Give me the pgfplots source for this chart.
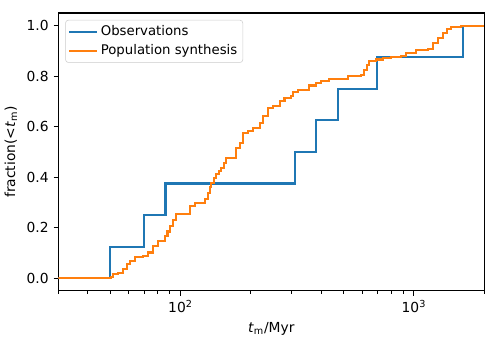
\documentclass[border=0pt]{standalone}
\usepackage{fontspec}
\setmainfont{DejaVu Sans}
\usepackage{pgfplots}
\pgfplotsset{compat=1.18}
\definecolor{tabblue}{HTML}{1F77B4}
\definecolor{taborange}{HTML}{FF7F0E}
\begin{document}
\begin{tikzpicture}
\begin{axis}[
  name=ax,
  scale only axis,
  width=308pt, height=201pt,
  xmode=log,
  xmin=30, xmax=2000,
  ymin=-0.05, ymax=1.05,
  xtick={100,1000},
  xticklabels={10\textsuperscript{2},10\textsuperscript{3}},
  minor xtick={30,40,50,60,70,80,90,200,300,400,500,600,700,800,900,2000},
  ytick={0,0.2,0.4,0.6,0.8,1.0},
  yticklabel style={/pgf/number format/.cd,fixed,fixed zerofill,precision=1},
  /pgf/number format/assume math mode=true,
  tick align=outside,
  tick pos=left,
  major tick length=3.5pt,
  minor tick length=2pt,
  every tick/.style={black, line width=0.8pt},
  every minor tick/.style={black, line width=0.6pt},
  axis line style={line width=0.8pt},
  tick label style={font=\fontsize{10}{12}\selectfont},
  label style={font=\fontsize{10}{12}\selectfont},
  xlabel={\textit{t}\textsubscript{m}/Myr},
  ylabel={fraction(<\textit{t}\textsubscript{m})},
  legend style={at={(rel axis cs:0,1)}, anchor=north west, xshift=5pt, yshift=-5pt,
    draw=black!20, rounded corners=2pt, fill=white, fill opacity=0.8, text opacity=1,
    font=\fontsize{9.6}{11.5}\selectfont, row sep=1pt, inner sep=2pt},
  legend cell align=left,
  legend image code/.code={\draw[#1] (0pt,0pt) -- (20pt,0pt);},
]
\addplot[const plot, tabblue, line width=1.5pt] coordinates {
(30,0) (49.9,0.125) (69.6,0.25) (86.3,0.375) (310,0.5) (381,0.625) (472,0.75) (695,0.875) (1619,1.0) (2000,1.0)
};
\addlegendentry{Observations}
\addplot[const plot, taborange, line width=1.5pt] coordinates {
(30,0) (50.4,0.004) (51.6,0.016) (54.2,0.022) (56.9,0.036) (58.8,0.055) (60.7,0.068) (63.8,0.084)
(69.3,0.088) (72.8,0.102) (76.4,0.128) (80.3,0.147) (85.7,0.167) (88,0.185) (90,0.207) (93,0.23)
(96.1,0.253) (109.6,0.286) (115.1,0.299) (127.0,0.312) (131.3,0.339) (133.5,0.36) (135.7,0.378)
(139,0.395) (142.5,0.411) (146,0.424) (149.7,0.437) (153,0.455) (157.3,0.477) (173.5,0.517)
(179.2,0.536) (185.3,0.576) (194.7,0.582) (204.5,0.596) (218.3,0.615) (225.7,0.641) (237.1,0.675)
(249.0,0.681) (265.8,0.701) (279.1,0.714) (298.1,0.721) (303.1,0.736) (318.4,0.744) (345.6,0.747)
(356.9,0.763) (381.2,0.774) (400.4,0.780) (434.5,0.789) (520.8,0.802) (593.5,0.806) (613.1,0.826)
(630,0.845) (644.1,0.859) (688.1,0.866) (734.9,0.872) (797.6,0.876) (879.7,0.879) (924.1,0.892)
(1019.8,0.905) (1144.5,0.908) (1202.3,0.932) (1262.9,0.951) (1326.6,0.971) (1380,0.985) (1439.3,0.995)
(1588.3,1.0) (2000,1.0)
};
\addlegendentry{Population synthesis}
\end{axis}
\path ([shift={(-40pt,-37pt)}]ax.south west) rectangle ([shift={(10pt,9.4pt)}]ax.north east);
\end{tikzpicture}
\end{document}
